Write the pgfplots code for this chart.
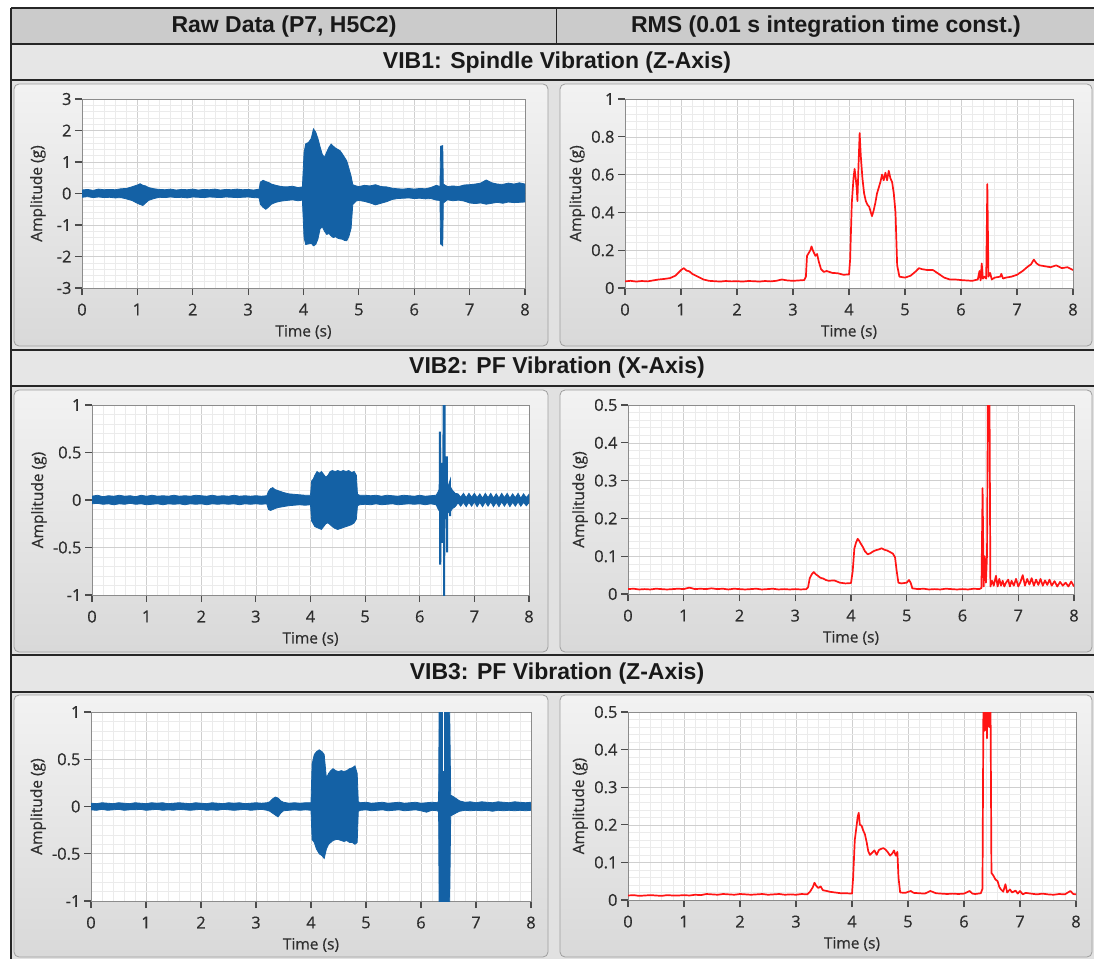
\documentclass[border=0pt]{standalone}
\usepackage{fontspec}
\usepackage{pgfplots}
\pgfplotsset{compat=1.18}
\usepackage{pgfplotstable}
\newfontfamily\hdfont{Liberation Sans}
\newfontfamily\lvfont{Open Sans}[FakeBold=0.45]
\definecolor{rawblue}{HTML}{1461A5}
\definecolor{rmsred}{HTML}{FF1414}
\definecolor{hdgray}{HTML}{CBCBCB}
\definecolor{rowgray}{HTML}{E6E6E6}
\definecolor{bggray}{HTML}{E1E1E1}
\definecolor{gridmaj}{HTML}{CFCFCF}
\definecolor{gridmin}{HTML}{EBEBEB}
\definecolor{txt}{HTML}{2E2E2E}

% raw data: upper and lower envelope of the signal band
\pgfplotstableread{
t u l
0.0 0.11 -0.12
0.1 0.13 -0.10
0.2 0.10 -0.13
0.3 0.14 -0.11
0.4 0.12 -0.13
0.5 0.13 -0.12
0.6 0.12 -0.14
0.7 0.15 -0.13
0.8 0.16 -0.17
0.9 0.21 -0.22
1.0 0.27 -0.31
1.05 0.31 -0.35
1.1 0.26 -0.38
1.15 0.24 -0.30
1.2 0.19 -0.22
1.3 0.15 -0.16
1.4 0.13 -0.12
1.5 0.12 -0.13
1.6 0.14 -0.11
1.7 0.11 -0.13
1.8 0.13 -0.12
1.9 0.12 -0.14
2.0 0.14 -0.11
2.1 0.11 -0.12
2.2 0.13 -0.13
2.3 0.12 -0.11
2.4 0.14 -0.12
2.5 0.11 -0.13
2.6 0.13 -0.11
2.7 0.12 -0.12
2.8 0.14 -0.13
2.9 0.12 -0.12
3.0 0.13 -0.11
3.1 0.11 -0.13
3.2 0.14 -0.14
3.22 0.36 -0.34
3.27 0.42 -0.44
3.32 0.38 -0.50
3.37 0.35 -0.43
3.42 0.30 -0.34
3.5 0.26 -0.28
3.6 0.22 -0.24
3.7 0.21 -0.22
3.8 0.23 -0.20
3.9 0.19 -0.23
3.98 0.21 -0.21
4.01 1.30 -1.40
4.04 1.58 -1.62
4.09 1.62 -1.60
4.14 1.75 -1.58
4.18 2.05 -1.66
4.22 1.95 -1.62
4.26 1.75 -1.45
4.30 1.48 -1.12
4.34 1.24 -1.06
4.38 1.15 -1.20
4.42 1.32 -1.30
4.46 1.47 -1.27
4.50 1.57 -1.35
4.54 1.50 -1.40
4.58 1.44 -1.37
4.62 1.40 -1.42
4.66 1.36 -1.44
4.70 1.26 -1.45
4.74 1.15 -1.49
4.78 1.04 -1.50
4.82 0.80 -1.36
4.86 0.55 -1.10
4.89 0.28 -0.35
4.95 0.24 -0.24
5.0 0.22 -0.22
5.1 0.26 -0.25
5.2 0.24 -0.30
5.3 0.28 -0.36
5.4 0.22 -0.31
5.5 0.21 -0.26
5.6 0.17 -0.19
5.7 0.15 -0.16
5.8 0.14 -0.15
5.9 0.16 -0.14
6.0 0.14 -0.16
6.1 0.16 -0.15
6.2 0.15 -0.17
6.3 0.19 -0.16
6.4 0.26 -0.21
6.465 0.22 -0.22
6.475 1.50 -1.60
6.515 1.52 -1.66
6.525 0.30 -0.30
6.6 0.22 -0.20
6.7 0.24 -0.23
6.8 0.22 -0.21
6.9 0.27 -0.24
7.0 0.28 -0.30
7.1 0.30 -0.32
7.2 0.33 -0.30
7.3 0.43 -0.34
7.4 0.34 -0.31
7.5 0.30 -0.28
7.6 0.29 -0.31
7.7 0.33 -0.27
7.8 0.30 -0.29
7.9 0.34 -0.28
8.0 0.30 -0.27
}\rawA

\pgfplotstableread{
t u l
0.0 0.04 -0.04
0.1 0.05 -0.035
0.2 0.035 -0.045
0.3 0.045 -0.04
0.4 0.04 -0.05
0.5 0.05 -0.04
0.6 0.04 -0.045
0.7 0.045 -0.035
0.8 0.035 -0.045
0.9 0.05 -0.04
1.0 0.04 -0.05
1.1 0.05 -0.045
1.2 0.04 -0.04
1.3 0.045 -0.05
1.4 0.04 -0.04
1.5 0.05 -0.045
1.6 0.04 -0.04
1.7 0.045 -0.05
1.8 0.04 -0.04
1.9 0.05 -0.045
2.0 0.045 -0.04
2.1 0.04 -0.05
2.2 0.05 -0.04
2.3 0.04 -0.045
2.4 0.045 -0.04
2.5 0.04 -0.045
2.6 0.05 -0.04
2.7 0.04 -0.05
2.8 0.045 -0.04
2.9 0.04 -0.045
3.0 0.045 -0.04
3.1 0.04 -0.045
3.2 0.045 -0.04
3.23 0.09 -0.10
3.27 0.12 -0.11
3.31 0.13 -0.10
3.35 0.11 -0.09
3.40 0.10 -0.08
3.50 0.08 -0.07
3.60 0.065 -0.06
3.70 0.06 -0.055
3.80 0.055 -0.05
3.90 0.05 -0.055
4.00 0.05 -0.05
4.02 0.20 -0.22
4.05 0.22 -0.25
4.08 0.26 -0.28
4.12 0.30 -0.29
4.16 0.28 -0.30
4.20 0.30 -0.31
4.24 0.27 -0.28
4.28 0.24 -0.25
4.32 0.26 -0.24
4.36 0.30 -0.26
4.40 0.31 -0.28
4.45 0.30 -0.30
4.50 0.31 -0.31
4.55 0.30 -0.30
4.60 0.31 -0.29
4.65 0.30 -0.28
4.70 0.31 -0.27
4.75 0.29 -0.26
4.80 0.30 -0.24
4.84 0.26 -0.20
4.86 0.06 -0.06
4.9 0.05 -0.05
5.0 0.05 -0.045
5.1 0.045 -0.05
5.2 0.05 -0.04
5.3 0.04 -0.05
5.4 0.05 -0.045
5.5 0.045 -0.04
5.6 0.04 -0.05
5.7 0.05 -0.045
5.8 0.045 -0.04
5.9 0.04 -0.045
6.0 0.05 -0.04
6.1 0.04 -0.05
6.2 0.045 -0.04
6.3 0.05 -0.05
6.34 0.09 -0.10
6.40 0.16 -0.15
6.48 0.14 -0.14
6.55 0.15 -0.13
6.60 0.10 -0.09
6.65 0.07 -0.07
6.70 0.065 -0.03
6.75 0.03 -0.065
6.80 0.07 -0.025
6.85 0.025 -0.07
6.90 0.07 -0.025
6.95 0.03 -0.065
7.00 0.07 -0.02
7.05 0.025 -0.07
7.10 0.065 -0.025
7.15 0.02 -0.07
7.20 0.07 -0.02
7.25 0.025 -0.065
7.30 0.07 -0.02
7.35 0.02 -0.07
7.40 0.065 -0.025
7.45 0.02 -0.07
7.50 0.07 -0.02
7.55 0.025 -0.065
7.60 0.07 -0.02
7.65 0.02 -0.07
7.70 0.065 -0.025
7.75 0.025 -0.065
7.80 0.07 -0.02
7.85 0.02 -0.065
7.90 0.065 -0.025
7.95 0.025 -0.06
8.00 0.06 -0.03
}\rawB

\pgfplotstableread{
t u l
0.0 0.035 -0.035
0.1 0.03 -0.04
0.2 0.04 -0.03
0.3 0.035 -0.04
0.4 0.03 -0.035
0.5 0.04 -0.03
0.6 0.035 -0.04
0.7 0.03 -0.035
0.8 0.04 -0.035
0.9 0.035 -0.03
1.0 0.03 -0.04
1.1 0.04 -0.035
1.2 0.035 -0.03
1.3 0.04 -0.04
1.4 0.03 -0.035
1.5 0.035 -0.04
1.6 0.04 -0.03
1.7 0.035 -0.035
1.8 0.03 -0.04
1.9 0.04 -0.035
2.0 0.035 -0.03
2.1 0.03 -0.04
2.2 0.04 -0.035
2.3 0.035 -0.04
2.4 0.03 -0.03
2.5 0.04 -0.035
2.6 0.035 -0.04
2.7 0.04 -0.035
2.8 0.03 -0.03
2.9 0.035 -0.04
3.0 0.04 -0.035
3.1 0.035 -0.03
3.2 0.04 -0.04
3.25 0.05 -0.05
3.30 0.08 -0.07
3.35 0.10 -0.09
3.40 0.09 -0.11
3.45 0.06 -0.07
3.50 0.045 -0.045
3.6 0.035 -0.04
3.7 0.04 -0.035
3.8 0.035 -0.04
3.9 0.04 -0.035
4.00 0.04 -0.04
4.02 0.45 -0.35
4.06 0.55 -0.38
4.10 0.58 -0.45
4.15 0.60 -0.50
4.20 0.58 -0.52
4.24 0.55 -0.55
4.28 0.30 -0.45
4.32 0.35 -0.40
4.36 0.38 -0.38
4.40 0.40 -0.36
4.45 0.38 -0.35
4.50 0.37 -0.35
4.55 0.38 -0.36
4.60 0.37 -0.37
4.65 0.38 -0.36
4.70 0.40 -0.38
4.75 0.41 -0.38
4.80 0.43 -0.40
4.84 0.35 -0.38
4.86 0.05 -0.05
4.9 0.04 -0.04
5.0 0.045 -0.035
5.1 0.035 -0.045
5.2 0.04 -0.04
5.3 0.045 -0.035
5.4 0.035 -0.045
5.5 0.04 -0.04
5.6 0.045 -0.035
5.7 0.035 -0.045
5.8 0.04 -0.04
5.9 0.045 -0.035
6.0 0.035 -0.045
6.1 0.04 -0.06
6.2 0.045 -0.04
6.3 0.04 -0.045
6.32 0.06 -0.06
6.33 1.10 -1.10
6.52 1.10 -1.10
6.54 0.12 -0.10
6.60 0.10 -0.08
6.70 0.06 -0.05
6.8 0.045 -0.04
6.9 0.05 -0.045
7.0 0.04 -0.04
7.1 0.05 -0.045
7.2 0.045 -0.04
7.3 0.04 -0.05
7.4 0.05 -0.04
7.5 0.045 -0.045
7.6 0.04 -0.04
7.7 0.05 -0.045
7.8 0.045 -0.04
7.9 0.04 -0.045
8.0 0.045 -0.04
}\rawC

% RMS values
\pgfplotstableread{
t y
0.00 0.035
0.10 0.038
0.20 0.034
0.30 0.037
0.40 0.035
0.50 0.040
0.60 0.045
0.70 0.048
0.80 0.052
0.90 0.065
0.95 0.080
1.00 0.095
1.05 0.105
1.10 0.092
1.15 0.088
1.20 0.075
1.30 0.060
1.40 0.045
1.50 0.038
1.60 0.036
1.70 0.034
1.80 0.037
1.90 0.035
2.00 0.036
2.10 0.034
2.20 0.037
2.30 0.036
2.40 0.034
2.50 0.037
2.60 0.035
2.70 0.038
2.80 0.045
2.90 0.040
3.00 0.038
3.10 0.040
3.20 0.042
3.23 0.060
3.25 0.170
3.28 0.185
3.31 0.200
3.33 0.220
3.36 0.195
3.40 0.170
3.43 0.180
3.46 0.140
3.50 0.100
3.55 0.085
3.60 0.090
3.70 0.080
3.80 0.078
3.90 0.070
4.00 0.072
4.02 0.150
4.05 0.450
4.08 0.580
4.10 0.630
4.12 0.580
4.14 0.520
4.15 0.460
4.17 0.650
4.19 0.820
4.21 0.700
4.24 0.580
4.27 0.500
4.30 0.460
4.33 0.440
4.36 0.430
4.39 0.400
4.41 0.380
4.44 0.410
4.47 0.450
4.50 0.500
4.53 0.530
4.56 0.560
4.59 0.600
4.62 0.570
4.65 0.610
4.68 0.570
4.71 0.620
4.74 0.580
4.77 0.560
4.80 0.500
4.83 0.400
4.86 0.120
4.90 0.060
5.00 0.055
5.10 0.065
5.20 0.090
5.25 0.105
5.30 0.100
5.40 0.095
5.50 0.095
5.60 0.075
5.70 0.055
5.80 0.045
5.90 0.045
6.00 0.042
6.10 0.040
6.20 0.038
6.30 0.045
6.33 0.090
6.35 0.040
6.37 0.130
6.39 0.050
6.42 0.060
6.45 0.050
6.47 0.550
6.49 0.060
6.52 0.080
6.55 0.045
6.60 0.055
6.70 0.060
6.72 0.075
6.75 0.050
6.80 0.055
6.90 0.060
7.00 0.070
7.10 0.090
7.20 0.115
7.25 0.125
7.30 0.150
7.35 0.130
7.40 0.120
7.50 0.115
7.60 0.110
7.70 0.120
7.80 0.105
7.90 0.110
8.00 0.095
}\rmsA

\pgfplotstableread{
t y
0.0 0.013
0.1 0.014
0.2 0.012
0.3 0.013
0.4 0.012
0.5 0.014
0.6 0.013
0.7 0.012
0.8 0.013
0.9 0.014
1.0 0.013
1.1 0.017
1.2 0.013
1.3 0.014
1.4 0.013
1.5 0.015
1.6 0.013
1.7 0.014
1.8 0.012
1.9 0.014
2.0 0.013
2.1 0.012
2.2 0.013
2.3 0.014
2.4 0.012
2.5 0.013
2.6 0.014
2.7 0.012
2.8 0.013
2.9 0.012
3.0 0.013
3.1 0.012
3.2 0.013
3.23 0.018
3.26 0.042
3.30 0.053
3.33 0.058
3.37 0.052
3.40 0.049
3.45 0.043
3.50 0.041
3.55 0.037
3.60 0.035
3.70 0.036
3.80 0.030
3.90 0.028
4.00 0.029
4.03 0.060
4.06 0.120
4.09 0.136
4.12 0.146
4.15 0.140
4.18 0.132
4.21 0.125
4.25 0.113
4.30 0.105
4.35 0.108
4.40 0.113
4.45 0.116
4.50 0.118
4.55 0.121
4.60 0.117
4.65 0.115
4.70 0.111
4.75 0.107
4.79 0.097
4.82 0.060
4.85 0.030
4.90 0.028
5.00 0.030
5.04 0.037
5.07 0.030
5.10 0.015
5.2 0.013
5.3 0.014
5.4 0.012
5.5 0.013
5.6 0.012
5.7 0.014
5.8 0.013
5.9 0.012
6.0 0.013
6.1 0.012
6.2 0.014
6.3 0.013
6.34 0.016
6.36 0.280
6.38 0.020
6.40 0.100
6.42 0.030
6.44 0.105
6.46 0.650
6.48 0.650
6.50 0.020
6.53 0.035
6.56 0.022
6.60 0.048
6.63 0.020
6.66 0.040
6.69 0.022
6.72 0.035
6.75 0.020
6.78 0.030
6.82 0.038
6.85 0.020
6.88 0.035
6.92 0.022
6.96 0.040
7.00 0.020
7.04 0.032
7.08 0.050
7.12 0.022
7.16 0.040
7.20 0.025
7.24 0.042
7.28 0.022
7.32 0.038
7.36 0.024
7.40 0.040
7.44 0.022
7.48 0.036
7.52 0.024
7.56 0.038
7.60 0.022
7.65 0.034
7.70 0.020
7.75 0.032
7.80 0.022
7.85 0.030
7.90 0.020
7.95 0.033
8.00 0.020
}\rmsB

\pgfplotstableread{
t y
0.0 0.012
0.1 0.013
0.2 0.011
0.3 0.012
0.4 0.013
0.5 0.012
0.6 0.011
0.7 0.013
0.8 0.012
0.9 0.012
1.0 0.013
1.1 0.012
1.2 0.014
1.3 0.013
1.4 0.016
1.5 0.015
1.6 0.014
1.7 0.016
1.8 0.015
1.9 0.014
2.0 0.016
2.1 0.015
2.2 0.014
2.3 0.015
2.4 0.016
2.5 0.014
2.6 0.015
2.7 0.016
2.8 0.014
2.9 0.015
3.0 0.014
3.1 0.016
3.2 0.015
3.25 0.022
3.30 0.034
3.33 0.046
3.36 0.038
3.40 0.032
3.44 0.036
3.48 0.026
3.55 0.024
3.60 0.022
3.70 0.020
3.80 0.018
3.90 0.018
4.00 0.017
4.02 0.060
4.05 0.160
4.08 0.195
4.10 0.220
4.12 0.232
4.14 0.200
4.17 0.198
4.20 0.185
4.23 0.175
4.26 0.155
4.29 0.130
4.32 0.120
4.36 0.126
4.40 0.132
4.44 0.120
4.48 0.133
4.52 0.136
4.56 0.138
4.60 0.134
4.64 0.127
4.68 0.118
4.72 0.124
4.75 0.132
4.78 0.118
4.81 0.128
4.83 0.060
4.86 0.020
4.95 0.019
5.05 0.024
5.10 0.019
5.2 0.018
5.3 0.017
5.4 0.024
5.5 0.018
5.6 0.017
5.7 0.016
5.8 0.017
5.9 0.016
6.0 0.017
6.1 0.024
6.15 0.017
6.2 0.016
6.3 0.018
6.33 0.030
6.35 0.620
6.37 0.450
6.39 0.620
6.41 0.430
6.43 0.620
6.45 0.460
6.47 0.620
6.49 0.072
6.52 0.066
6.56 0.055
6.60 0.050
6.63 0.035
6.66 0.028
6.70 0.022
6.74 0.042
6.77 0.020
6.82 0.028
6.86 0.020
6.92 0.025
6.96 0.017
7.00 0.024
7.05 0.015
7.10 0.019
7.20 0.017
7.30 0.015
7.40 0.017
7.50 0.015
7.60 0.014
7.70 0.016
7.80 0.015
7.90 0.024
7.95 0.016
8.00 0.015
}\rmsC

\pgfplotsset{
  lv/.style={
    scale only axis, xmin=0, xmax=8,
    xtick={0,1,2,3,4,5,6,7,8}, xticklabels={0,1,2,3,4,5,6,7,8},
    xtick pos=bottom, ytick pos=left,
    minor x tick num=4, minor y tick num=4,
    grid=both,
    major grid style={gridmaj, line width=0.6pt},
    minor grid style={gridmin, line width=0.5pt},
    axis background/.style={fill=white},
    axis line style={black!45, line width=0.7pt},
    tick align=outside, major tick length=7pt, minor tick length=0pt,
    tick style={black!70, line width=1.2pt},
    tick label style={font=\lvfont\fontsize{16.5}{19}\selectfont, text=txt},
    xticklabel style={yshift=-5pt},
    label style={font=\lvfont\fontsize{15.5}{18}\selectfont, text=txt},
    xlabel={Time (s)}, ylabel={Amplitude (g)},
    xlabel style={at={([yshift=-44pt]axis description cs:0.5,0)}, anchor=center},
  },
  raw/.style={lv, ymin=-#1, ymax=#1},
  rawband/.style={draw=rawblue, fill=rawblue, line width=0.8pt},
  rmsline/.style={draw=rmsred, line width=1.7pt, line join=round},
}

\begin{document}
\begin{tikzpicture}
\begin{scope}[x=1pt, y=-1pt]
\useasboundingbox (0,0) rectangle (1094,961);
% frame and rows
\fill[bggray] (11,80) rectangle (1094,959);
\fill[hdgray] (11,8) rectangle (1094,44);
\fill[rowgray] (11,44) rectangle (1094,80);
\fill[rowgray] (11,350) rectangle (1094,386);
\fill[rowgray] (11,655) rectangle (1094,692);
\foreach \yy in {8,44,80,350,386,655,692}
  \draw[black!85, line width=1.4pt] (11,\yy) -- (1094,\yy);
\draw[black!85, line width=1.4pt] (11,8) -- (11,959);
\draw[black!85, line width=1.4pt] (556.5,8) -- (556.5,44);
% panels
\foreach \ya/\yb in {84/346, 390/652, 695/957} {
  \draw[rounded corners=5pt, draw=black!38, line width=0.8pt, top color=black!5, bottom color=black!15]
    (14,\ya) rectangle (548,\yb);
  \draw[rounded corners=5pt, draw=black!38, line width=0.8pt, top color=black!5, bottom color=black!15]
    (560,\ya) rectangle (1092,\yb);
}
% titles
\tikzset{hd/.style={font=\hdfont\bfseries\fontsize{23}{26}\selectfont, text=black!90}}
\node[hd] at (284,27) {Raw Data (P7, H5C2)};
\node[hd] at (826,27) {RMS (0.01 s integration time const.)};
\node[hd] at (557,62.5) {VIB1: Spindle Vibration (Z-Axis)};
\node[hd] at (557,368) {VIB2: PF Vibration (X-Axis)};
\node[hd] at (557,673.5) {VIB3: PF Vibration (Z-Axis)};
\end{scope}

% VIB1 raw
\begin{axis}[raw=3, at={(82pt,-288pt)}, anchor=south west, width=443pt, height=189pt,
  ytick={-3,-2,-1,0,1,2,3}, yticklabels={-3,-2,-1,0,1,2,3},
  ylabel style={at={([xshift=-44pt]axis description cs:0,0.5)}, anchor=center}]
\addplot[rawband] table[x=t, y=u] {\rawA} \closedcycle;
\addplot[rawband] table[x=t, y=l] {\rawA} \closedcycle;
\end{axis}

% VIB1 RMS
\begin{axis}[lv, at={(625pt,-288pt)}, anchor=south west, width=448pt, height=189pt,
  ymin=0, ymax=1, ytick={0,0.2,0.4,0.6,0.8,1}, yticklabels={0,0.2,0.4,0.6,0.8,1},
  ylabel style={at={([xshift=-48pt]axis description cs:0,0.5)}, anchor=center}]
\addplot[rmsline] table[x=t, y=y] {\rmsA};
\end{axis}

% VIB2 raw
\begin{axis}[raw=1, at={(92pt,-595pt)}, anchor=south west, width=437pt, height=190pt,
  ytick={-1,-0.5,0,0.5,1}, yticklabels={-1,-0.5,0,0.5,1},
  ylabel style={at={([xshift=-53pt]axis description cs:0,0.5)}, anchor=center}]
\addplot[rawband] table[x=t, y=u] {\rawB} \closedcycle;
\addplot[rawband] table[x=t, y=l] {\rawB} \closedcycle;
\addplot[rawblue, line width=2pt] coordinates {(6.365,0.02) (6.37,0.72) (6.375,-0.68) (6.38,0.1) (6.415,0.39) (6.42,-0.45) (6.44,1.1) (6.447,-1.1) (6.453,1.1) (6.46,-0.2) (6.495,0.46) (6.50,-0.55) (6.505,0.1) (6.55,0.18) (6.555,-0.17)};
\end{axis}

% VIB2 RMS
\begin{axis}[lv, at={(628pt,-594pt)}, anchor=south west, width=446pt, height=189pt,
  ymin=0, ymax=0.5, ytick={0,0.1,0.2,0.3,0.4,0.5}, yticklabels={0,0.1,0.2,0.3,0.4,0.5},
  ylabel style={at={([xshift=-48pt]axis description cs:0,0.5)}, anchor=center}]
\addplot[rmsline] table[x=t, y=y] {\rmsB};
\end{axis}

% VIB3 raw
\begin{axis}[raw=1, at={(91pt,-901pt)}, anchor=south west, width=440pt, height=189pt,
  ytick={-1,-0.5,0,0.5,1}, yticklabels={-1,-0.5,0,0.5,1},
  ylabel style={at={([xshift=-53pt]axis description cs:0,0.5)}, anchor=center}]
\addplot[rawband] table[x=t, y=u] {\rawC} \closedcycle;
\addplot[rawband] table[x=t, y=l] {\rawC} \closedcycle;
\addplot[white, line width=1.2pt] coordinates {(6.41,0.38) (6.41,1.1)};
\end{axis}

% VIB3 RMS
\begin{axis}[lv, at={(628pt,-900pt)}, anchor=south west, width=448pt, height=188pt,
  ymin=0, ymax=0.5, ytick={0,0.1,0.2,0.3,0.4,0.5}, yticklabels={0,0.1,0.2,0.3,0.4,0.5},
  ylabel style={at={([xshift=-48pt]axis description cs:0,0.5)}, anchor=center}]
\addplot[rmsline] table[x=t, y=y] {\rmsC};
\end{axis}
\end{tikzpicture}
\end{document}
